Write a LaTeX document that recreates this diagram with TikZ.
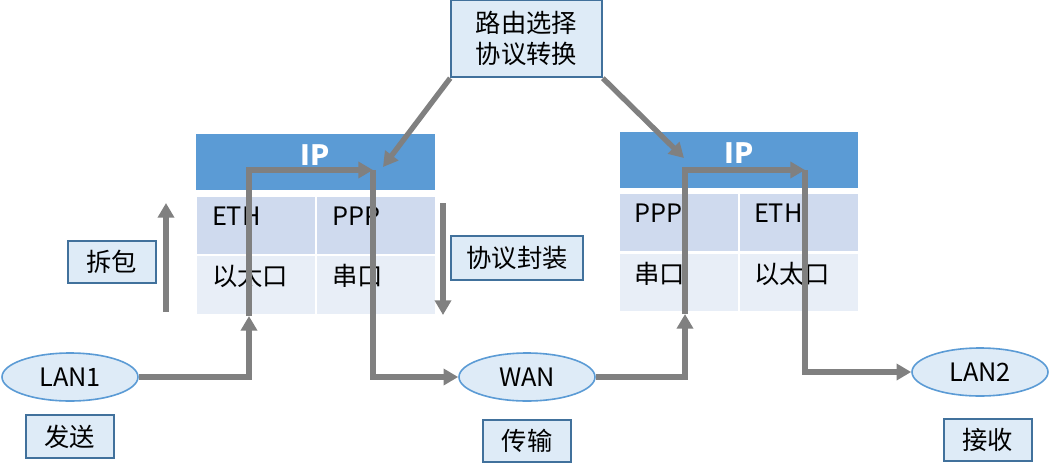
\documentclass[tikz,border=0pt]{standalone}
\usepackage{fontspec}
\setmainfont{Noto Sans CJK SC}
\usetikzlibrary{arrows.meta,positioning,calc,shapes.geometric}
\definecolor{ipblue}{HTML}{5B9BD5}
\definecolor{rowdark}{HTML}{CFDAEE}
\definecolor{rowlight}{HTML}{E8EEF7}
\definecolor{boxfill}{HTML}{DEEBF7}
\definecolor{boxline}{HTML}{41719C}
\definecolor{flowgray}{HTML}{808080}

\begin{document}
\begin{tikzpicture}[
    x=0.75pt, y=-0.75pt,
    every node/.style={font=\fontsize{19}{23}\selectfont},
    tag/.style={rectangle, draw=boxline, fill=boxfill, line width=1.5pt, inner sep=0pt, minimum width=66pt, minimum height=32pt},
    lan/.style={ellipse, draw=ipblue, fill=boxfill, line width=1.2pt, inner sep=0pt, minimum width=102pt, minimum height=36pt},
    head/.style={rectangle, fill=ipblue, inner sep=0pt, minimum width=179pt, minimum height=42pt},
    headtext/.style={inner sep=0pt, text=white, font=\fontsize{21}{25}\selectfont\bfseries},
    cell/.style={rectangle, inner sep=0pt, minimum width=88.5pt, minimum height=43pt},
    celltext/.style={anchor=west, inner sep=0pt},
    flow/.style={draw=flowgray, line width=4pt, -{Triangle[length=11pt,width=12pt]}},
  ]
    \useasboundingbox (0,0) rectangle (1051,472);

    % Top box
    \node[tag, minimum width=113pt, minimum height=58pt, align=center] (route) at (526.5,38.5) {路由选择\\协议转换};

    % Left table
    \node[head] (ipL) at (315.5,162) {};
    \node[headtext] at ($(ipL)+(0,-7)$) {IP};
    \node[cell, fill=rowdark] (ethL) at (256,225.5) {};
    \node[cell, fill=rowdark] (pppL) at (376,225.5) {};
    \node[cell, fill=rowlight] (etpL) at (256,285) {};
    \node[cell, fill=rowlight] (serL) at (376,285) {};
    \node[celltext] at ($(ethL.west)+(15,-9)$) {ETH};
    \node[celltext] at ($(pppL.west)+(15,-9)$) {PPP};
    \node[celltext] at ($(etpL.west)+(15,-9)$) {以太口};
    \node[celltext] at ($(serL.west)+(15,-9)$) {串口};

    % Right table
    \node[head] (ipR) at (739,160) {};
    \node[headtext] at ($(ipR)+(0,-7)$) {IP};
    \node[cell, fill=rowdark] (pppR) at (679,222.5) {};
    \node[cell, fill=rowdark] (ethR) at (799,222.5) {};
    \node[cell, fill=rowlight] (serR) at (679,282.5) {};
    \node[cell, fill=rowlight] (etpR) at (799,282.5) {};
    \node[celltext] at ($(pppR.west)+(14,-9)$) {PPP};
    \node[celltext] at ($(ethR.west)+(14,-9)$) {ETH};
    \node[celltext] at ($(serR.west)+(14,-9)$) {串口};
    \node[celltext] at ($(etpR.west)+(14,-9)$) {以太口};

    % Networks
    \node[lan] (lan1) at (70,377) {LAN1};
    \node[lan] (wan) at (527,377) {WAN};
    \node[lan] (lan2) at (980,372) {LAN2};

    % Labels
    \node[tag] (send) at (70,436.5) {发送};
    \node[tag] (trans) at (527,441) {传输};
    \node[tag] (recv) at (987.5,440) {接收};
    \node[tag] (unpack) at (111.5,262) {拆包};
    \node[tag, minimum width=99pt, minimum height=33pt] (pack) at (517,258) {协议封装};

    % Turning points
    \coordinate (in1) at (249,316);
    \coordinate (top1) at (373,170);
    \coordinate (in2) at (685,314);
    \coordinate (top2) at (805,170);
    \coordinate (hit1) at (383,167);
    \coordinate (hit2) at (684,158);
    \coordinate (up1) at (166,312);
    \coordinate (up2) at (166,203);
    \coordinate (dn1) at (443,203);
    \coordinate (dn2) at (443,315);

    % Arrows
    \draw[flow] (lan1) -| (in1);
    \draw[flow] (in1) |- (top1);
    \draw[flow] (top1) |- (wan);
    \draw[flow] (wan) -| (in2);
    \draw[flow] (in2) |- (top2);
    \draw[flow] (top2) |- (lan2);
    \draw[flow] (route.south west) -- (hit1);
    \draw[flow] (route.south east) -- (hit2);
    \draw[flow] (up1) -- (up2);
    \draw[flow] (dn1) -- (dn2);
  \end{tikzpicture}
\end{document}
